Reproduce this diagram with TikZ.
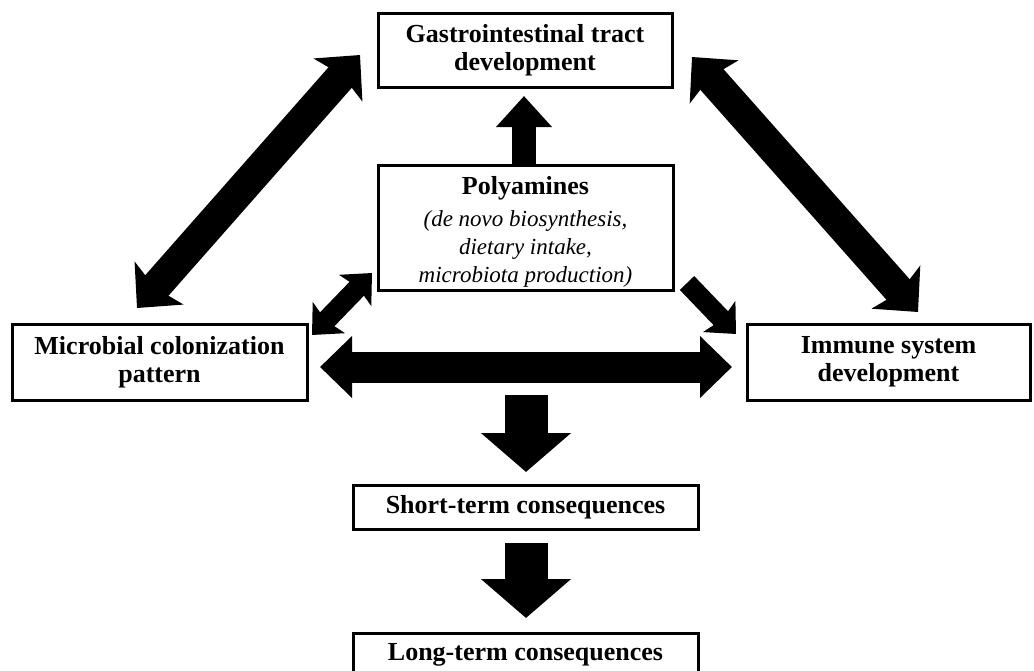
\documentclass[tikz,border=0pt]{standalone}
\usepackage{fontspec}
\setmainfont{Liberation Serif}
\usetikzlibrary{arrows.meta}
\newcommand{\pait}[1]{{\fontsize{23}{25}\selectfont\mdseries\itshape #1}}
\tikzset{
  box/.style={draw, line width=3pt, rectangle, inner sep=0pt, align=center,
    font=\fontsize{26}{28}\selectfont\bfseries},
  boxtext/.style={inner sep=0pt, align=center, font=\fontsize{26}{28}\selectfont\bfseries},
  bigdbl/.style={line width=31pt, {Stealth[length=33pt,width=64pt,inset=6pt]}-{Stealth[length=33pt,width=64pt,inset=6pt]}},
  smalldbl/.style={line width=20pt, {Stealth[length=24pt,width=44pt,inset=4pt]}-{Stealth[length=24pt,width=44pt,inset=4pt]}},
  smallone/.style={line width=20pt, -{Stealth[length=24pt,width=44pt,inset=4pt]}},
  hdbl/.style={line width=31pt, {Triangle[length=32pt,width=60pt]}-{Triangle[length=32pt,width=60pt]}},
  blockdown/.style={line width=43pt, -{Triangle[length=39pt,width=88pt]}},
  blockup/.style={line width=24pt, -{Triangle[length=31pt,width=54pt]}}
}
\begin{document}
\begin{tikzpicture}[x=1pt,y=-1pt]
\useasboundingbox (0,0) rectangle (1034,670);
\clip (0,0) rectangle (1034,670);
% boxes
\node[box, minimum width=294pt, minimum height=74pt] (gi) at (525,50)
  {Gastrointestinal tract\\development};
\node[box, minimum width=295pt, minimum height=125pt] (pa) at (525.5,227.5) {};
\node[boxtext] (pat) at ([yshift=-4pt]pa.center)
  {Polyamines\\[4pt]\pait{(de novo biosynthesis,}\\\pait{dietary intake,}\\\pait{microbiota production)}};
\node[box, minimum width=295pt, minimum height=76pt] (mc) at (159.5,362)
  {Microbial colonization\\pattern};
\node[box, minimum width=283pt, minimum height=76pt] (is) at (888.5,362)
  {Immune system\\development};
\node[box, minimum width=345pt, minimum height=44pt] (st) at (525.5,507)
  {Short-term consequences};
\node[box, minimum width=345pt, minimum height=44pt] (lt) at (525.5,655)
  {Long-term consequences};
% connector endpoints
\coordinate (ldA) at (137,308);
\coordinate (ldB) at (360,55);
\coordinate (rdA) at (692,57);
\coordinate (rdB) at (918,312);
\coordinate (slA) at (372,273);
\coordinate (slB) at (312,335);
\coordinate (srA) at (687,283);
\coordinate (srB) at (736,334);
\coordinate (hA) at (320,367);
\coordinate (hB) at (732,367);
\coordinate (d1A) at (526,395);
\coordinate (d1B) at (526,472);
\coordinate (d2A) at (526,543);
\coordinate (d2B) at (526,618);
\coordinate (upB) at (524,96);
% arrows
\draw[blockup] (pa.north -| upB) -- (upB);
\draw[bigdbl] (ldA) -- (ldB);
\draw[bigdbl] (rdA) -- (rdB);
\draw[smalldbl] (slA) -- (slB);
\draw[smallone] (srA) -- (srB);
\draw[hdbl] (hA) -- (hB);
\draw[blockdown] (d1A) -- (d1B);
\draw[blockdown] (d2A) -- (d2B);
\end{tikzpicture}
\end{document}
